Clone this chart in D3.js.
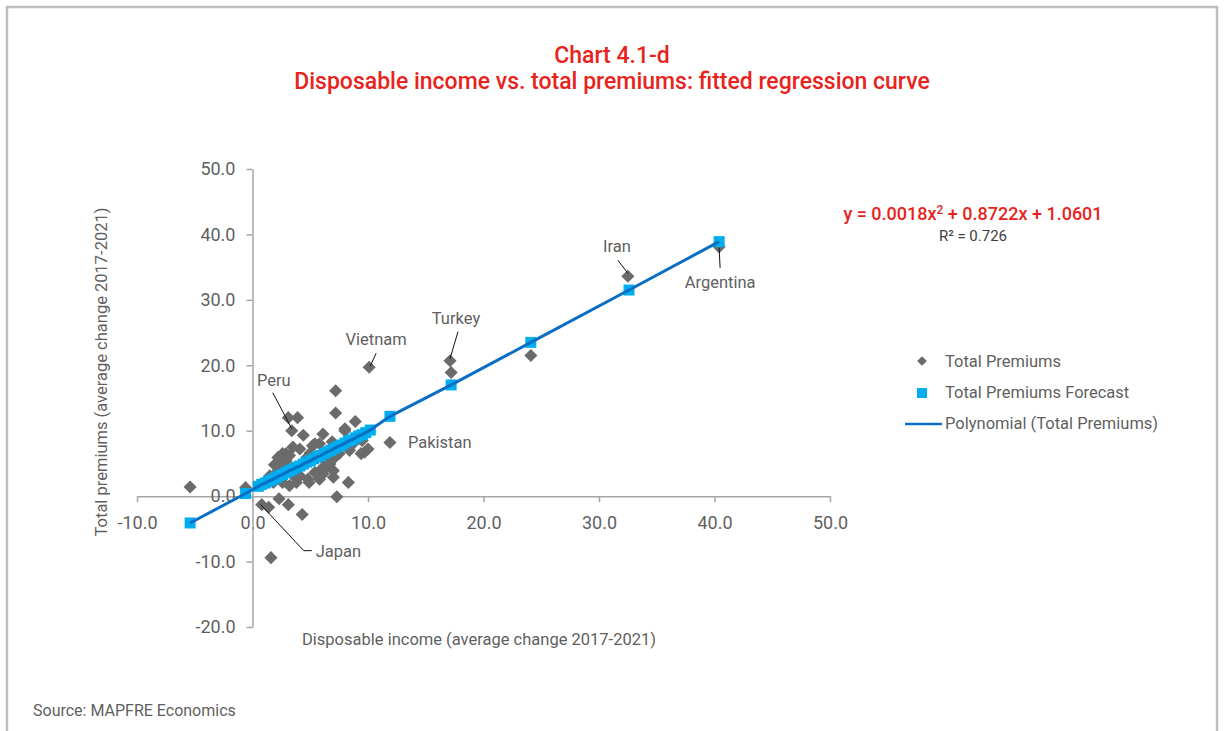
<!DOCTYPE html>
<html>
<head>
<meta charset="utf-8">
<script src="https://cdn.jsdelivr.net/npm/d3@7"></script>
<style>
  body { margin: 0; background: #fff; }
  svg { display: block; font-family: Roboto, "DejaVu Sans", sans-serif; }
</style>
</head>
<body>
<div id="chart"></div>
<script>
// Total premiums (actual): [disposable income, total premiums]
const premiumPoints = [
  [-5.4, 1.4], [-0.6, 1.3], [0.8, -1.3], [1.4, -1.7], [1.6, -9.4], [2.3, -0.4],
  [3.1, -1.3], [4.3, -2.8], [7.3, -0.1], [8.3, 2.1], [7.0, 2.9],
  [7.2, 16.1], [7.2, 12.7], [3.1, 12.0], [3.9, 12.0], [3.4, 10.0], [4.4, 9.3],
  [6.1, 9.5], [8.0, 10.0], [8.9, 11.4], [11.9, 8.2], [10.1, 19.7],
  [17.1, 20.7], [17.2, 18.9], [24.1, 21.5], [32.5, 33.6], [40.4, 38.1],
  [9.5, 8.5], [9.7, 6.7], [10.0, 7.2], [9.4, 6.5], [9.3, 8.8], [8.7, 8.0], [8.4, 7.0],
  [7.5, 6.5], [7.0, 5.7], [6.7, 4.9], [6.4, 4.4], [6.1, 3.9], [6.0, 5.9], [6.4, 5.4],
  [6.7, 7.2], [5.8, 8.0], [5.4, 8.0], [5.2, 7.7], [4.1, 7.2], [3.5, 7.5], [4.7, 5.9],
  [2.6, 6.5], [2.9, 6.5], [2.2, 5.9], [3.2, 6.2], [2.9, 5.4], [2.3, 5.2], [1.9, 4.8],
  [6.0, 4.2], [7.0, 3.9], [4.1, 3.1], [4.8, 2.6], [5.4, 3.6], [5.8, 2.6], [4.9, 2.1],
  [3.8, 2.1], [3.2, 1.6], [2.6, 2.1], [1.2, 2.4], [1.8, 2.1], [2.2, 3.9], [2.9, 4.7],
  [6.1, 3.4], [8.0, 10.3], [6.9, 8.3], [5.0, 6.6], [3.6, 3.0], [1.5, 3.1]
];

// Total premiums forecast (fitted values)
const forecastPoints = [
  [-5.4, -4.1], [-0.6, 0.4], [0.5, 1.5], [0.8, 1.8], [1.1, 2.0], [1.4, 2.3], [1.7, 2.5],
  [2.0, 2.8], [2.3, 3.1], [2.6, 3.3], [2.9, 3.6], [3.2, 3.9], [3.5, 4.1], [3.8, 4.4],
  [4.1, 4.6], [4.4, 4.9], [4.7, 5.2], [5.0, 5.4], [5.3, 5.7], [5.6, 6.0], [5.9, 6.2],
  [6.2, 6.5], [6.5, 6.8], [6.8, 7.0], [7.1, 7.3], [7.4, 7.6], [7.7, 7.8], [8.0, 8.1],
  [8.3, 8.4], [8.6, 8.6], [8.9, 8.9], [9.2, 9.2], [9.5, 9.4], [9.8, 9.7], [10.2, 10.1],
  [11.9, 12.2], [17.2, 17.0], [24.1, 23.5], [32.6, 31.5], [40.4, 38.9]
];

// labelled countries: name, point
const labelNames = ["Peru", "Vietnam", "Turkey", "Iran", "Argentina", "Pakistan", "Japan"];
const labelPoints = [[3.4, 10.0], [10.1, 19.7], [17.1, 20.7], [32.5, 33.6], [40.4, 38.1], [11.9, 8.2], [0.8, -1.3]];

const xTicks = [-10, 0, 10, 20, 30, 40, 50];
const yTicks = [-20, -10, 0, 10, 20, 30, 40, 50];
const legendLabels = ["Total Premiums", "Total Premiums Forecast", "Polynomial (Total Premiums)"];

const W = 1224, H = 731;
const red = "#e8231c", grey = "#5f5f5f", axisGrey = "#a6a6a6";
const fmt = d => d3.format(".1f")(d).replace("−", "-");

const svg = d3.select("#chart").append("svg").attr("width", W).attr("height", H);

// frame
svg.append("path")
  .attr("d", `M7,${H} V7 H1217 V${H}`)
  .attr("fill", "none").attr("stroke", "#bfbfbf").attr("stroke-width", 2.5);

// titles
svg.append("text").attr("x", 612).attr("y", 63).attr("text-anchor", "middle")
  .attr("fill", red).attr("font-size", 23).attr("font-weight", 500).text("Chart 4.1-d");
svg.append("text").attr("x", 612).attr("y", 89).attr("text-anchor", "middle")
  .attr("fill", red).attr("font-size", 23).attr("font-weight", 500)
  .text("Disposable income vs. total premiums: fitted regression curve");

const x = d3.scaleLinear().domain([-10, 50]).range([137, 830]);
const y = d3.scaleLinear().domain([-20, 50]).range([627, 169]);

// axes crossing at zero
const xAxis = svg.append("g").attr("transform", `translate(0,${y(0)})`)
  .call(d3.axisBottom(x).tickValues(xTicks).tickSize(6).tickSizeOuter(0).tickFormat(fmt));
const yAxis = svg.append("g").attr("transform", `translate(${x(0)},0)`)
  .call(d3.axisLeft(y).tickValues(yTicks).tickSize(6).tickSizeOuter(0).tickFormat(fmt));

[xAxis, yAxis].forEach(a => {
  a.select(".domain").attr("stroke", axisGrey).attr("stroke-width", 1.5);
  a.selectAll(".tick line").attr("stroke", axisGrey).attr("stroke-width", 1.5);
  a.selectAll(".tick text").attr("fill", grey).attr("font-size", 18)
    .attr("font-family", "Roboto, sans-serif");
});
xAxis.selectAll(".tick text").attr("dy", "1.3em");
yAxis.selectAll(".tick text").attr("x", -17);

// axis titles
svg.append("text").attr("x", 479).attr("y", 645).attr("text-anchor", "middle")
  .attr("fill", grey).attr("font-size", 16.5).text("Disposable income (average change 2017-2021)");
svg.append("text").attr("transform", `translate(107,372) rotate(-90)`).attr("text-anchor", "middle")
  .attr("fill", grey).attr("font-size", 16.5).text("Total premiums (average change 2017-2021)");

const diamond = d3.symbol().type(d3.symbolDiamond2).size(110);

// actual premiums
svg.append("g").selectAll("path").data(premiumPoints).join("path")
  .attr("d", diamond)
  .attr("transform", d => `translate(${x(d[0])},${y(d[1])})`)
  .attr("fill", "#6b6b6b");

// forecast squares
svg.append("g").selectAll("rect").data(forecastPoints).join("rect")
  .attr("x", d => x(d[0]) - 5.5).attr("y", d => y(d[1]) - 5.5)
  .attr("width", 11).attr("height", 11).attr("fill", "#00aeef");

// polynomial trendline through the fitted values
const sortedFit = forecastPoints.slice().sort((a, b) => a[0] - b[0]);
svg.append("path").datum(sortedFit)
  .attr("fill", "none").attr("stroke", "#0a6fc4").attr("stroke-width", 3)
  .attr("d", d3.line().x(d => x(d[0])).y(d => y(d[1])));

// annotations: text offset and leader line (relative to the point, px)
const labelLayout = {
  Peru: { tx: -18, ty: -45, anchor: "middle", leader: [[-19, -38], [0, -2]] },
  Vietnam: { tx: 7, ty: -22, anchor: "middle", leader: [[7, -14], [1, -1]] },
  Turkey: { tx: 6, ty: -37, anchor: "middle", leader: [[8, -29], [0, -2]] },
  Iran: { tx: -11, ty: -24, anchor: "middle", leader: [[-10, -16], [0, -3]] },
  Argentina: { tx: 1, ty: 41, anchor: "middle", leader: [[1, 21], [0, 1]] },
  Pakistan: { tx: 18, ty: 6, anchor: "start", leader: null },
  Japan: { tx: 54, ty: 52, anchor: "start", leader: [[-1, 0], [42, 46], [50, 46]] }
};

labelNames.forEach((name, i) => {
  const px = x(labelPoints[i][0]), py = y(labelPoints[i][1]);
  const l = labelLayout[name];
  if (l.leader) {
    svg.append("path")
      .attr("d", d3.line()(l.leader.map(p => [px + p[0], py + p[1]])))
      .attr("fill", "none").attr("stroke", "#111").attr("stroke-width", 1);
  }
  svg.append("text").attr("x", px + l.tx).attr("y", py + l.ty)
    .attr("text-anchor", l.anchor).attr("fill", grey).attr("font-size", 16.5).text(name);
});

// equation
const eq = svg.append("text").attr("x", 973).attr("y", 220).attr("text-anchor", "middle")
  .attr("fill", red).attr("font-size", 18).attr("font-weight", 500);
eq.append("tspan").text("y = 0.0018x");
eq.append("tspan").attr("dy", -6).attr("font-size", 12).text("2");
eq.append("tspan").attr("dy", 6).text(" + 0.8722x + 1.0601");
svg.append("text").attr("x", 973).attr("y", 241).attr("text-anchor", "middle")
  .attr("fill", "#404040").attr("font-size", 15).text("R² = 0.726");

// legend
const leg = svg.append("g");
leg.append("path").attr("d", d3.symbol().type(d3.symbolDiamond2).size(60))
  .attr("transform", "translate(922,361)").attr("fill", "#6b6b6b");
leg.append("rect").attr("x", 917).attr("y", 388).attr("width", 10).attr("height", 10).attr("fill", "#00aeef");
leg.append("line").attr("x1", 905).attr("x2", 942).attr("y1", 424).attr("y2", 424)
  .attr("stroke", "#0a6fc4").attr("stroke-width", 2.5);
legendLabels.forEach((t, i) => {
  leg.append("text").attr("x", 945).attr("y", 367 + i * 31)
    .attr("fill", grey).attr("font-size", 16.5).text(t);
});

// source
svg.append("text").attr("x", 33).attr("y", 716).attr("fill", grey).attr("font-size", 16)
  .text("Source: MAPFRE Economics");
</script>
</body>
</html>
